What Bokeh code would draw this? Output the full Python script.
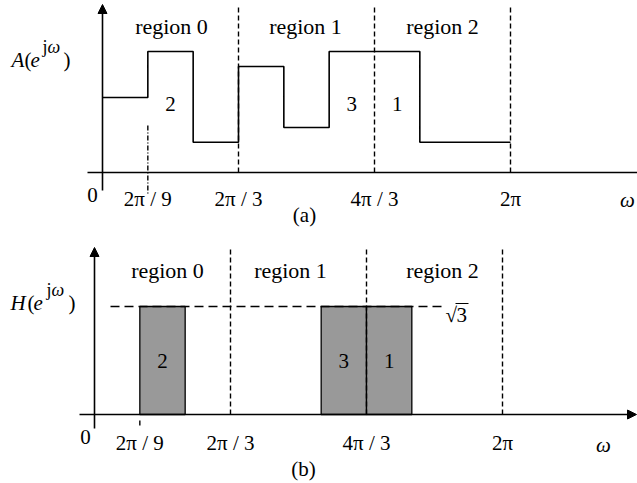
import numpy as np
from bokeh.plotting import figure
from bokeh.layouts import column
from bokeh.models import Arrow, NormalHead
from bokeh.core.properties import value
from bokeh.embed import file_html
from bokeh.resources import INLINE

# ---------------- data (x in units of pi) ----------------
edges_a = [0, 2/9, 4/9, 2/3, 8/9, 10/9, 14/9, 2]
amp_a = [0.62, 1.0, 0.25, 0.876, 0.372, 1.0, 0.25]
region_bounds = [2/3, 4/3, 2]
region_labels = ["region 0", "region 1", "region 2"]
tick_pos = [2/9, 2/3, 4/3, 2]
tick_labels = ["2π / 9", "2π / 3", "4π / 3", "2π"]
band_left = [2/9, 10/9, 4/3]
band_right = [4/9, 4/3, 14/9]
band_names = ["2", "3", "1"]
h_level = float(np.sqrt(3))

FONT = value("Liberation Serif")
FS = "21px"
FS_REG = "22px"
FS_SUP = "18px"

def make_fig(h, xr, yr):
    p = figure(width=637, height=h, x_range=xr, y_range=yr,
               x_axis_type=None, y_axis_type=None, toolbar_location=None,
               output_backend="svg", min_border=0, outline_line_color=None,
               background_fill_color="white", border_fill_color="white")
    return p

def txt(p, x, y, s, size=FS, align="center", baseline="middle", style="normal", xo=0, yo=0):
    p.text(x=[x], y=[y], text=[s], text_font=FONT, text_font_size=size,
           text_align=align, text_baseline=baseline, text_font_style=style,
           text_color="black", x_offset=xo, y_offset=yo)

def ylabel(p, fx, fy, letter, xs, base, sup_base):
    # letter(e^{jω}) built from pieces; xs = left pixel of each piece
    txt(p, fx(xs[0]), fy(base), letter, align="left", baseline="alphabetic", style="italic")
    txt(p, fx(xs[1]), fy(base), "(", align="left", baseline="alphabetic")
    txt(p, fx(xs[2]), fy(base), "e", align="left", baseline="alphabetic", style="italic")
    txt(p, fx(xs[3]), fy(sup_base), "j", size=FS_SUP, align="left", baseline="alphabetic")
    txt(p, fx(xs[4]), fy(sup_base), "ω", size=FS_SUP, align="left", baseline="alphabetic", style="italic")
    txt(p, fx(xs[5]), fy(base), ")", align="left", baseline="alphabetic")

# ---------------- panel (a) ----------------
def ax(px): return (px - 102) / 204
def ay(py): return (172 - py) / 121

pa = make_fig(240, (ax(0), ax(637)), (ay(240), ay(0)))

pa.step(x=edges_a, y=amp_a + [amp_a[-1]], mode="after", line_color="black", line_width=1.6)

for xb in region_bounds:
    pa.segment(x0=[xb], y0=[0], x1=[xb], y1=[ay(5)], line_color="black",
               line_width=1.4, line_dash="5 3")
pa.segment(x0=[tick_pos[0]], y0=[ay(125)], x1=[tick_pos[0]], y1=[ay(193)],
           line_color="black", line_width=1.4, line_dash="5 2 1 2")

pa.segment(x0=[ax(87)], y0=[0], x1=[ax(640)], y1=[0], line_color="black", line_width=1.6)
pa.add_layout(Arrow(end=NormalHead(size=9, fill_color="black", line_color="black"),
                    x_start=0, y_start=ay(190), x_end=0, y_end=ay(4),
                    line_color="black", line_width=1.6))

for xc, lab in zip([ax(171), ax(305), ax(442)], region_labels):
    txt(pa, xc, ay(26), lab, size=FS_REG)
for l, r, n in zip(band_left, band_right, band_names):
    txt(pa, (l + r) / 2, ay(103), n)
for xt, lab in zip(tick_pos, tick_labels):
    txt(pa, xt, ay(198), lab)
txt(pa, 0, ay(194), "0", xo=-10)
txt(pa, ax(627), ay(199), "ω", style="italic")
txt(pa, ax(304), ay(214), "(a)")
ylabel(pa, ax, ay, "A", [11, 24, 30, 42, 47, 63], 59, 46)

# ---------------- panel (b) ----------------
S = 108 / h_level
def bx(px): return (px - 94) / 204
def by(py): return (414 - py) / S   # py absolute page pixel

pb = make_fig(243, (bx(0), bx(637)), (by(483), by(240)))

pb.quad(left=band_left, right=band_right, bottom=[0] * 3, top=[h_level] * 3,
        fill_color="#999999", line_color="black", line_width=1.3)
pb.segment(x0=[bx(110)], y0=[h_level], x1=[bx(442)], y1=[h_level],
           line_color="black", line_width=1.4, line_dash="9 5")
for xb in region_bounds:
    pb.segment(x0=[xb], y0=[0], x1=[xb], y1=[by(247)], line_color="black",
               line_width=1.4, line_dash="5 3")
pb.segment(x0=[tick_pos[0]], y0=[by(420)], x1=[tick_pos[0]], y1=[by(425)],
           line_color="black", line_width=1.4)

pb.add_layout(Arrow(end=NormalHead(size=9, fill_color="black", line_color="black"),
                    x_start=bx(79), y_start=0, x_end=bx(636), y_end=0,
                    line_color="black", line_width=1.6))
pb.add_layout(Arrow(end=NormalHead(size=9, fill_color="black", line_color="black"),
                    x_start=0, y_start=by(428), x_end=0, y_end=by(247),
                    line_color="black", line_width=1.6))

for xc, lab in zip([bx(167), bx(290), bx(442)], region_labels):
    txt(pb, xc, by(270), lab, size=FS_REG)
for l, r, n in zip(band_left, band_right, band_names):
    txt(pb, (l + r) / 2, by(360), n)
for xt, lab in zip(tick_pos, tick_labels):
    txt(pb, xt, by(442), lab)
txt(pb, 0, by(436), "0", xo=-9)
txt(pb, bx(603), by(444), "ω", style="italic")
txt(pb, bx(303), by(468), "(b)")
txt(pb, bx(445), by(314), "√", align="left")
txt(pb, bx(456), by(314), "3", align="left")
pb.segment(x0=[bx(455)], y0=[by(303)], x1=[bx(468)], y1=[by(303)], line_color="black", line_width=1)
ylabel(pb, bx, by, "H", [10, 27, 33, 46, 51, 68], 302, 289)

layout = column(pa, pb, spacing=0)
open("out.html", "w").write(file_html(layout, INLINE))
